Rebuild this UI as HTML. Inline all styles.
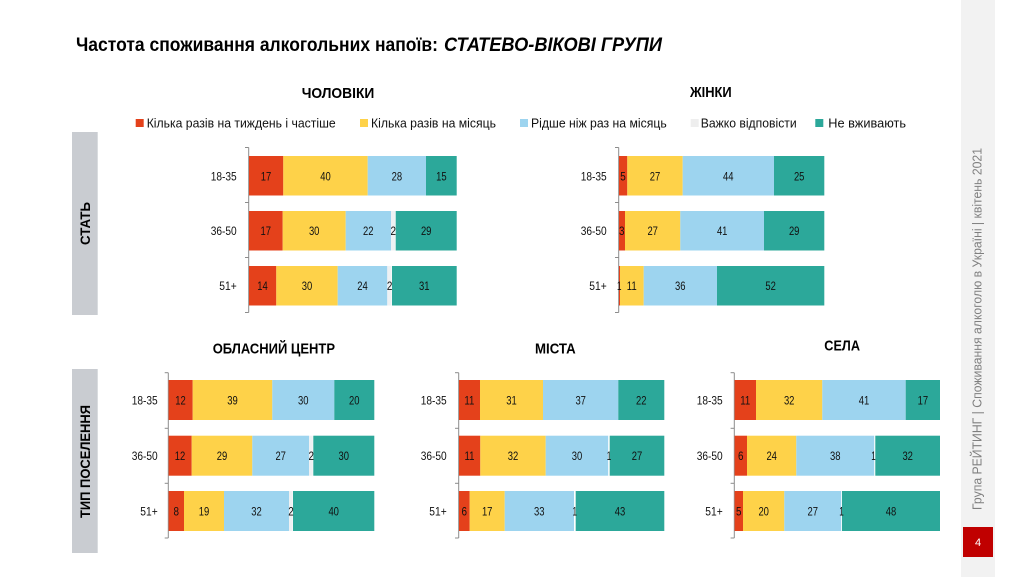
<!DOCTYPE html>
<html>
<head>
<meta charset="utf-8">
<style>
html,body{margin:0;padding:0;background:#fff;}
svg{display:block;}
text{font-family:"Liberation Sans",Arial,sans-serif;}
.d{font-size:12px;fill:#111;text-anchor:middle;}
.c{font-size:12px;fill:#111;text-anchor:end;}
.h{font-size:15px;font-weight:bold;fill:#000;}
.l{font-size:12.5px;fill:#111;}
</style>
</head>
<body>
<svg width="1024" height="577" viewBox="0 0 1024 577" xmlns="http://www.w3.org/2000/svg">
<rect width="1024" height="577" fill="#fff"/>

<!-- Title -->
<text x="76" y="51" font-size="19" font-weight="bold" fill="#000" textLength="362" lengthAdjust="spacingAndGlyphs">Частота споживання алкогольних напоїв:</text>
<text x="444" y="51" font-size="19" font-weight="bold" font-style="italic" fill="#000" textLength="218" lengthAdjust="spacingAndGlyphs">СТАТЕВО-ВІКОВІ ГРУПИ</text>

<!-- Chart titles -->
<text class="h" x="301.7" y="98" textLength="72.6" lengthAdjust="spacingAndGlyphs">ЧОЛОВІКИ</text>
<text class="h" x="690" y="97" textLength="41.7" lengthAdjust="spacingAndGlyphs">ЖІНКИ</text>
<text class="h" x="212.7" y="353.5" textLength="122.3" lengthAdjust="spacingAndGlyphs">ОБЛАСНИЙ ЦЕНТР</text>
<text class="h" x="535" y="353.5" textLength="40.7" lengthAdjust="spacingAndGlyphs">МІСТА</text>
<text class="h" x="824.3" y="350.5" textLength="35.7" lengthAdjust="spacingAndGlyphs">СЕЛА</text>

<!-- Legend -->
<rect x="135.7" y="119" width="8" height="8" fill="#e4411b"/>
<text class="l" x="146.7" y="127.5" textLength="189" lengthAdjust="spacingAndGlyphs">Кілька разів на тиждень і частіше</text>
<rect x="360" y="119" width="8" height="8" fill="#fed249"/>
<text class="l" x="371" y="127.5" textLength="125" lengthAdjust="spacingAndGlyphs">Кілька разів на місяць</text>
<rect x="520" y="119" width="8" height="8" fill="#9dd4ef"/>
<text class="l" x="531" y="127.5" textLength="135.7" lengthAdjust="spacingAndGlyphs">Рідше ніж раз на місяць</text>
<rect x="690.7" y="119" width="8" height="8" fill="#eeeeee"/>
<text class="l" x="700.7" y="127.5" textLength="96" lengthAdjust="spacingAndGlyphs">Важко відповісти</text>
<rect x="815.3" y="119" width="8" height="8" fill="#2ca89a"/>
<text class="l" x="828.3" y="127.5" textLength="77.7" lengthAdjust="spacingAndGlyphs">Не вживають</text>

<!-- Left group boxes -->
<rect x="72" y="132" width="25.7" height="183" fill="#c9ccd1"/>
<g transform="translate(84.8,223.5) rotate(-90)"><text x="0" y="5" font-size="14" font-weight="bold" fill="#000" text-anchor="middle" textLength="43" lengthAdjust="spacingAndGlyphs">СТАТЬ</text></g>
<rect x="72" y="369" width="25.7" height="184" fill="#c9ccd1"/>
<g transform="translate(84.8,461.5) rotate(-90)"><text x="0" y="5" font-size="14" font-weight="bold" fill="#000" text-anchor="middle" textLength="113" lengthAdjust="spacingAndGlyphs">ТИП ПОСЕЛЕННЯ</text></g>

<!-- Right sidebar -->
<rect x="961" y="0" width="34" height="577" fill="#f2f2f2"/>
<g transform="translate(977,329) rotate(-90)"><text x="0" y="4.5" font-size="13" fill="#7f7f7f" text-anchor="middle" textLength="362" lengthAdjust="spacingAndGlyphs">Група РЕЙТИНГ | Споживання алкоголю в Україні | квітень 2021</text></g>
<rect x="963" y="527" width="30" height="30" fill="#c00000"/>
<text x="978" y="546" font-size="11" fill="#fff" text-anchor="middle">4</text>

<!-- ===== Chart TL: ЧОЛОВІКИ ===== -->
<g>
<line x1="248.7" y1="147.5" x2="248.7" y2="312.5" stroke="#8c8c8c" stroke-width="1"/>
<line x1="245" y1="147.5" x2="248.7" y2="147.5" stroke="#8c8c8c"/>
<line x1="245" y1="202.5" x2="248.7" y2="202.5" stroke="#8c8c8c"/>
<line x1="245" y1="257.5" x2="248.7" y2="257.5" stroke="#8c8c8c"/>
<line x1="245" y1="312.5" x2="248.7" y2="312.5" stroke="#8c8c8c"/>
<text class="c" x="236.7" y="180.3" textLength="26" lengthAdjust="spacingAndGlyphs">18-35</text>
<text class="c" x="236.7" y="235" textLength="26" lengthAdjust="spacingAndGlyphs">36-50</text>
<text class="c" x="236.7" y="290" textLength="17.4" lengthAdjust="spacingAndGlyphs">51+</text>
<!-- r1 -->
<rect x="249" y="156" width="34.3" height="39.5" fill="#e4411b"/>
<rect x="283.3" y="156" width="84.4" height="39.5" fill="#fed249"/>
<rect x="367.7" y="156" width="58.3" height="39.5" fill="#9dd4ef"/>
<rect x="426" y="156" width="30.7" height="39.5" fill="#2ca89a"/>
<text class="d" x="266" y="180.3" textLength="10.5" lengthAdjust="spacingAndGlyphs">17</text>
<text class="d" x="325.5" y="180.3" textLength="10.5" lengthAdjust="spacingAndGlyphs">40</text>
<text class="d" x="396.9" y="180.3" textLength="10.5" lengthAdjust="spacingAndGlyphs">28</text>
<text class="d" x="441.4" y="180.3" textLength="10.5" lengthAdjust="spacingAndGlyphs">15</text>
<!-- r2 -->
<rect x="249" y="211" width="33.7" height="39.5" fill="#e4411b"/>
<rect x="282.7" y="211" width="63" height="39.5" fill="#fed249"/>
<rect x="345.7" y="211" width="45.3" height="39.5" fill="#9dd4ef"/>
<rect x="391" y="211" width="4.2" height="39.5" fill="#eef1f3"/>
<rect x="395.7" y="211" width="61" height="39.5" fill="#2ca89a"/>
<text class="d" x="265.8" y="235" textLength="10.5" lengthAdjust="spacingAndGlyphs">17</text>
<text class="d" x="314.2" y="235" textLength="10.5" lengthAdjust="spacingAndGlyphs">30</text>
<text class="d" x="368.3" y="235" textLength="10.5" lengthAdjust="spacingAndGlyphs">22</text>
<text class="d" x="393.3" y="235" textLength="5.5" lengthAdjust="spacingAndGlyphs">2</text>
<text class="d" x="426.2" y="235" textLength="10.5" lengthAdjust="spacingAndGlyphs">29</text>
<!-- r3 -->
<rect x="249" y="266" width="27.3" height="39.5" fill="#e4411b"/>
<rect x="276.3" y="266" width="61.4" height="39.5" fill="#fed249"/>
<rect x="337.7" y="266" width="49.6" height="39.5" fill="#9dd4ef"/>
<rect x="387.3" y="266" width="4.2" height="39.5" fill="#eef1f3"/>
<rect x="392" y="266" width="64.7" height="39.5" fill="#2ca89a"/>
<text class="d" x="262.5" y="290" textLength="10.5" lengthAdjust="spacingAndGlyphs">14</text>
<text class="d" x="307" y="290" textLength="10.5" lengthAdjust="spacingAndGlyphs">30</text>
<text class="d" x="362.5" y="290" textLength="10.5" lengthAdjust="spacingAndGlyphs">24</text>
<text class="d" x="389.6" y="290" textLength="5.5" lengthAdjust="spacingAndGlyphs">2</text>
<text class="d" x="424.3" y="290" textLength="10.5" lengthAdjust="spacingAndGlyphs">31</text>
</g>

<!-- ===== Chart TR: ЖІНКИ ===== -->
<g>
<line x1="618.7" y1="147.5" x2="618.7" y2="312.5" stroke="#8c8c8c"/>
<line x1="615" y1="147.5" x2="618.7" y2="147.5" stroke="#8c8c8c"/>
<line x1="615" y1="202.5" x2="618.7" y2="202.5" stroke="#8c8c8c"/>
<line x1="615" y1="257.5" x2="618.7" y2="257.5" stroke="#8c8c8c"/>
<line x1="615" y1="312.5" x2="618.7" y2="312.5" stroke="#8c8c8c"/>
<text class="c" x="606.7" y="180.3" textLength="26" lengthAdjust="spacingAndGlyphs">18-35</text>
<text class="c" x="606.7" y="235" textLength="26" lengthAdjust="spacingAndGlyphs">36-50</text>
<text class="c" x="606.7" y="290" textLength="17.4" lengthAdjust="spacingAndGlyphs">51+</text>
<!-- r1 -->
<rect x="619" y="156" width="8.3" height="39.5" fill="#e4411b"/>
<rect x="627.3" y="156" width="55.4" height="39.5" fill="#fed249"/>
<rect x="682.7" y="156" width="91.3" height="39.5" fill="#9dd4ef"/>
<rect x="774" y="156" width="50.3" height="39.5" fill="#2ca89a"/>
<text class="d" x="623" y="180.3" textLength="5.5" lengthAdjust="spacingAndGlyphs">5</text>
<text class="d" x="655" y="180.3" textLength="10.5" lengthAdjust="spacingAndGlyphs">27</text>
<text class="d" x="728.3" y="180.3" textLength="10.5" lengthAdjust="spacingAndGlyphs">44</text>
<text class="d" x="799.2" y="180.3" textLength="10.5" lengthAdjust="spacingAndGlyphs">25</text>
<!-- r2 -->
<rect x="619" y="211" width="6" height="39.5" fill="#e4411b"/>
<rect x="625" y="211" width="55.3" height="39.5" fill="#fed249"/>
<rect x="680.3" y="211" width="83.7" height="39.5" fill="#9dd4ef"/>
<rect x="764" y="211" width="60.3" height="39.5" fill="#2ca89a"/>
<text class="d" x="621.8" y="235" textLength="5.5" lengthAdjust="spacingAndGlyphs">3</text>
<text class="d" x="652.7" y="235" textLength="10.5" lengthAdjust="spacingAndGlyphs">27</text>
<text class="d" x="722.2" y="235" textLength="10.5" lengthAdjust="spacingAndGlyphs">41</text>
<text class="d" x="794.2" y="235" textLength="10.5" lengthAdjust="spacingAndGlyphs">29</text>
<!-- r3 -->
<rect x="619" y="266" width="1.3" height="39.5" fill="#e4411b"/>
<rect x="620" y="266" width="23.7" height="39.5" fill="#fed249"/>
<rect x="643.7" y="266" width="73.3" height="39.5" fill="#9dd4ef"/>
<rect x="717" y="266" width="107.3" height="39.5" fill="#2ca89a"/>
<text class="d" x="619.3" y="290" textLength="4.5" lengthAdjust="spacingAndGlyphs">1</text>
<text class="d" x="631.8" y="290" textLength="10" lengthAdjust="spacingAndGlyphs">11</text>
<text class="d" x="680.3" y="290" textLength="10.5" lengthAdjust="spacingAndGlyphs">36</text>
<text class="d" x="770.6" y="290" textLength="10.5" lengthAdjust="spacingAndGlyphs">52</text>
</g>

<!-- ===== Chart BL: ОБЛАСНИЙ ЦЕНТР ===== -->
<g>
<line x1="168.3" y1="372.7" x2="168.3" y2="538" stroke="#8c8c8c"/>
<line x1="164.7" y1="372.7" x2="168.3" y2="372.7" stroke="#8c8c8c"/>
<line x1="164.7" y1="428.3" x2="168.3" y2="428.3" stroke="#8c8c8c"/>
<line x1="164.7" y1="483.3" x2="168.3" y2="483.3" stroke="#8c8c8c"/>
<line x1="164.7" y1="538" x2="168.3" y2="538" stroke="#8c8c8c"/>
<text class="c" x="157.7" y="404.3" textLength="26" lengthAdjust="spacingAndGlyphs">18-35</text>
<text class="c" x="157.7" y="460" textLength="26" lengthAdjust="spacingAndGlyphs">36-50</text>
<text class="c" x="157.7" y="515.3" textLength="17.4" lengthAdjust="spacingAndGlyphs">51+</text>
<!-- r1 -->
<rect x="168.6" y="380" width="24.1" height="40" fill="#e4411b"/>
<rect x="192.7" y="380" width="79.6" height="40" fill="#fed249"/>
<rect x="272.3" y="380" width="62" height="40" fill="#9dd4ef"/>
<rect x="334.3" y="380" width="40" height="40" fill="#2ca89a"/>
<text class="d" x="180.5" y="404.3" textLength="10.5" lengthAdjust="spacingAndGlyphs">12</text>
<text class="d" x="232.5" y="404.3" textLength="10.5" lengthAdjust="spacingAndGlyphs">39</text>
<text class="d" x="303.3" y="404.3" textLength="10.5" lengthAdjust="spacingAndGlyphs">30</text>
<text class="d" x="354.3" y="404.3" textLength="10.5" lengthAdjust="spacingAndGlyphs">20</text>
<!-- r2 -->
<rect x="168.6" y="435.7" width="23.1" height="40" fill="#e4411b"/>
<rect x="191.7" y="435.7" width="60.6" height="40" fill="#fed249"/>
<rect x="252.3" y="435.7" width="56.7" height="40" fill="#9dd4ef"/>
<rect x="309" y="435.7" width="3.8" height="40" fill="#eef1f3"/>
<rect x="313.3" y="435.7" width="61" height="40" fill="#2ca89a"/>
<text class="d" x="180" y="460" textLength="10.5" lengthAdjust="spacingAndGlyphs">12</text>
<text class="d" x="222" y="460" textLength="10.5" lengthAdjust="spacingAndGlyphs">29</text>
<text class="d" x="280.7" y="460" textLength="10.5" lengthAdjust="spacingAndGlyphs">27</text>
<text class="d" x="311.2" y="460" textLength="5.5" lengthAdjust="spacingAndGlyphs">2</text>
<text class="d" x="343.8" y="460" textLength="10.5" lengthAdjust="spacingAndGlyphs">30</text>
<!-- r3 -->
<rect x="168.6" y="491" width="15.4" height="40" fill="#e4411b"/>
<rect x="184" y="491" width="40" height="40" fill="#fed249"/>
<rect x="224" y="491" width="65" height="40" fill="#9dd4ef"/>
<rect x="289" y="491" width="3.6" height="40" fill="#eef1f3"/>
<rect x="293" y="491" width="81.3" height="40" fill="#2ca89a"/>
<text class="d" x="176.2" y="515.3" textLength="5.5" lengthAdjust="spacingAndGlyphs">8</text>
<text class="d" x="204" y="515.3" textLength="10.5" lengthAdjust="spacingAndGlyphs">19</text>
<text class="d" x="256.5" y="515.3" textLength="10.5" lengthAdjust="spacingAndGlyphs">32</text>
<text class="d" x="291" y="515.3" textLength="5.5" lengthAdjust="spacingAndGlyphs">2</text>
<text class="d" x="333.7" y="515.3" textLength="10.5" lengthAdjust="spacingAndGlyphs">40</text>
</g>

<!-- ===== Chart BM: МІСТА ===== -->
<g>
<line x1="458.7" y1="372.7" x2="458.7" y2="538" stroke="#8c8c8c"/>
<line x1="455" y1="372.7" x2="458.7" y2="372.7" stroke="#8c8c8c"/>
<line x1="455" y1="428.3" x2="458.7" y2="428.3" stroke="#8c8c8c"/>
<line x1="455" y1="483.3" x2="458.7" y2="483.3" stroke="#8c8c8c"/>
<line x1="455" y1="538" x2="458.7" y2="538" stroke="#8c8c8c"/>
<text class="c" x="446.7" y="404.3" textLength="26" lengthAdjust="spacingAndGlyphs">18-35</text>
<text class="c" x="446.7" y="460" textLength="26" lengthAdjust="spacingAndGlyphs">36-50</text>
<text class="c" x="446.7" y="515.3" textLength="17.4" lengthAdjust="spacingAndGlyphs">51+</text>
<!-- r1 -->
<rect x="459" y="380" width="21" height="40" fill="#e4411b"/>
<rect x="480" y="380" width="63" height="40" fill="#fed249"/>
<rect x="543" y="380" width="75.3" height="40" fill="#9dd4ef"/>
<rect x="618.3" y="380" width="46" height="40" fill="#2ca89a"/>
<text class="d" x="469.4" y="404.3" textLength="10" lengthAdjust="spacingAndGlyphs">11</text>
<text class="d" x="511.5" y="404.3" textLength="10.5" lengthAdjust="spacingAndGlyphs">31</text>
<text class="d" x="580.7" y="404.3" textLength="10.5" lengthAdjust="spacingAndGlyphs">37</text>
<text class="d" x="641.3" y="404.3" textLength="10.5" lengthAdjust="spacingAndGlyphs">22</text>
<!-- r2 -->
<rect x="459" y="435.7" width="21.3" height="40" fill="#e4411b"/>
<rect x="480.3" y="435.7" width="65.4" height="40" fill="#fed249"/>
<rect x="545.7" y="435.7" width="62.6" height="40" fill="#9dd4ef"/>
<rect x="608.3" y="435.7" width="1" height="40" fill="#ffffff"/>
<rect x="609.7" y="435.7" width="54.6" height="40" fill="#2ca89a"/>
<text class="d" x="469.5" y="460" textLength="10" lengthAdjust="spacingAndGlyphs">11</text>
<text class="d" x="513" y="460" textLength="10.5" lengthAdjust="spacingAndGlyphs">32</text>
<text class="d" x="577" y="460" textLength="10.5" lengthAdjust="spacingAndGlyphs">30</text>
<text class="d" x="609" y="460" textLength="4.5" lengthAdjust="spacingAndGlyphs">1</text>
<text class="d" x="637" y="460" textLength="10.5" lengthAdjust="spacingAndGlyphs">27</text>
<!-- r3 -->
<rect x="459" y="491" width="10.7" height="40" fill="#e4411b"/>
<rect x="469.7" y="491" width="35" height="40" fill="#fed249"/>
<rect x="504.7" y="491" width="69.3" height="40" fill="#9dd4ef"/>
<rect x="574" y="491" width="1.3" height="40" fill="#ffffff"/>
<rect x="575.7" y="491" width="88.6" height="40" fill="#2ca89a"/>
<text class="d" x="464.2" y="515.3" textLength="5.5" lengthAdjust="spacingAndGlyphs">6</text>
<text class="d" x="487.2" y="515.3" textLength="10.5" lengthAdjust="spacingAndGlyphs">17</text>
<text class="d" x="539.3" y="515.3" textLength="10.5" lengthAdjust="spacingAndGlyphs">33</text>
<text class="d" x="574.8" y="515.3" textLength="4.5" lengthAdjust="spacingAndGlyphs">1</text>
<text class="d" x="620" y="515.3" textLength="10.5" lengthAdjust="spacingAndGlyphs">43</text>
</g>

<!-- ===== Chart BR: СЕЛА ===== -->
<g>
<line x1="734.3" y1="372.7" x2="734.3" y2="538" stroke="#8c8c8c"/>
<line x1="730.6" y1="372.7" x2="734.3" y2="372.7" stroke="#8c8c8c"/>
<line x1="730.6" y1="428.3" x2="734.3" y2="428.3" stroke="#8c8c8c"/>
<line x1="730.6" y1="483.3" x2="734.3" y2="483.3" stroke="#8c8c8c"/>
<line x1="730.6" y1="538" x2="734.3" y2="538" stroke="#8c8c8c"/>
<text class="c" x="722.7" y="404.3" textLength="26" lengthAdjust="spacingAndGlyphs">18-35</text>
<text class="c" x="722.7" y="460" textLength="26" lengthAdjust="spacingAndGlyphs">36-50</text>
<text class="c" x="722.7" y="515.3" textLength="17.4" lengthAdjust="spacingAndGlyphs">51+</text>
<!-- r1 -->
<rect x="734.6" y="380" width="21.4" height="40" fill="#e4411b"/>
<rect x="756" y="380" width="66.3" height="40" fill="#fed249"/>
<rect x="822.3" y="380" width="83.4" height="40" fill="#9dd4ef"/>
<rect x="905.7" y="380" width="34.3" height="40" fill="#2ca89a"/>
<text class="d" x="745.2" y="404.3" textLength="10" lengthAdjust="spacingAndGlyphs">11</text>
<text class="d" x="789.2" y="404.3" textLength="10.5" lengthAdjust="spacingAndGlyphs">32</text>
<text class="d" x="864" y="404.3" textLength="10.5" lengthAdjust="spacingAndGlyphs">41</text>
<text class="d" x="922.9" y="404.3" textLength="10.5" lengthAdjust="spacingAndGlyphs">17</text>
<!-- r2 -->
<rect x="734.6" y="435.7" width="12.4" height="40" fill="#e4411b"/>
<rect x="747" y="435.7" width="49.3" height="40" fill="#fed249"/>
<rect x="796.3" y="435.7" width="78" height="40" fill="#9dd4ef"/>
<rect x="874.3" y="435.7" width="1" height="40" fill="#ffffff"/>
<rect x="875.3" y="435.7" width="64.7" height="40" fill="#2ca89a"/>
<text class="d" x="740.7" y="460" textLength="5.5" lengthAdjust="spacingAndGlyphs">6</text>
<text class="d" x="771.7" y="460" textLength="10.5" lengthAdjust="spacingAndGlyphs">24</text>
<text class="d" x="835.3" y="460" textLength="10.5" lengthAdjust="spacingAndGlyphs">38</text>
<text class="d" x="873.5" y="460" textLength="4.5" lengthAdjust="spacingAndGlyphs">1</text>
<text class="d" x="907.7" y="460" textLength="10.5" lengthAdjust="spacingAndGlyphs">32</text>
<!-- r3 -->
<rect x="734.6" y="491" width="8.4" height="40" fill="#e4411b"/>
<rect x="743" y="491" width="41.3" height="40" fill="#fed249"/>
<rect x="784.3" y="491" width="57" height="40" fill="#9dd4ef"/>
<rect x="841.3" y="491" width="0.8" height="40" fill="#ffffff"/>
<rect x="842" y="491" width="98" height="40" fill="#2ca89a"/>
<text class="d" x="738.7" y="515.3" textLength="5.5" lengthAdjust="spacingAndGlyphs">5</text>
<text class="d" x="763.7" y="515.3" textLength="10.5" lengthAdjust="spacingAndGlyphs">20</text>
<text class="d" x="812.8" y="515.3" textLength="10.5" lengthAdjust="spacingAndGlyphs">27</text>
<text class="d" x="841.5" y="515.3" textLength="4.5" lengthAdjust="spacingAndGlyphs">1</text>
<text class="d" x="891" y="515.3" textLength="10.5" lengthAdjust="spacingAndGlyphs">48</text>
</g>
</svg>
</body>
</html>
